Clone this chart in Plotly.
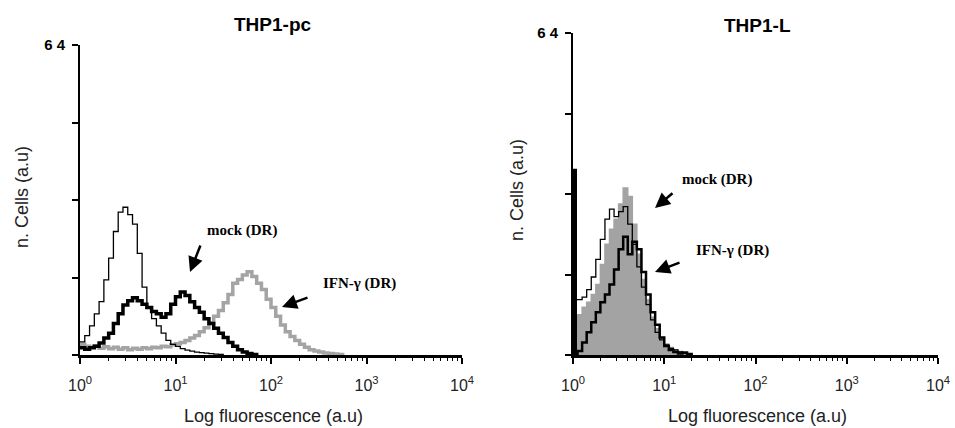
import plotly.graph_objects as go

W, H = 955, 428

# channel positions, log10 of fluorescence, 0.05-decade bins
chan = [round(0.05 * i, 2) for i in range(60)]

# THP1-pc histograms (n. cells, 0-64 scale)
pc_ctrl = [2.7, 4, 6, 8.5, 11, 15.5, 20, 25.5, 29.5, 30.5, 29, 27, 21, 14, 10, 7.5,
           6, 4.5, 3, 2.2, 1.8, 1.3, 1, 0.8, 0.6, 0.5, 0.4, 0.3, 0.2, 0.1, 0]
pc_mock = [1.5, 1.2, 1.5, 1.8, 2.5, 3.5, 4.5, 6.5, 8.5, 10.3, 11.2, 11.8, 11.2, 10.5,
           9.8, 9, 8.5, 7.8, 8.5, 10.5, 12, 13, 12.3, 11, 9.8, 8.8, 7.5, 6.5, 5.5, 4.5,
           3.6, 2.6, 1.8, 1.1, 0.6, 0.3, 0.1, 0]
pc_ifn = [2.2, 1.8, 1.6, 1.9, 1.4, 1.7, 1.3, 1.6, 1.2, 1.5, 1.1, 1.4, 1.2, 1.5, 1.3,
          1.6, 1.5, 1.8, 1.7, 2.1, 2.3, 2.6, 3, 3.5, 4, 4.8, 5.6, 6.6, 8, 9.2, 10.8,
          12.5, 14.8, 15.6, 16.5, 17.2, 16.2, 14.8, 13.5, 11.5, 9.8, 8, 6.2, 4.8, 3.8,
          3, 2.2, 1.6, 1.1, 0.8, 0.6, 0.4, 0.3, 0.2, 0.1, 0]

# THP1-L histograms (control has a pile-up in the first channel)
l_ctrl_first = 37
l_ctrl = [11, 11, 11.5, 13, 15.5, 19, 23, 27, 29, 27.5, 28.5, 29.5, 26, 22, 17.5,
          13.5, 10, 7, 4.5, 3, 2, 1.3, 1, 0.6, 0.4, 0.2, 0]
l_ifn = [6.6, 8, 9.5, 10.5, 12, 14, 18, 22, 25, 27, 30, 33.2, 31.5, 26, 20, 15, 11,
         7.5, 5.2, 3.5, 2.2, 1.5, 1, 0.7, 0.4, 0.2, 0]
l_mock = [0, 0.8, 2.5, 4.5, 6.5, 8.5, 10.5, 12, 14, 17, 21, 23.5, 20, 22.5, 21, 16.5,
          12, 8.5, 6, 3.5, 1.8, 1, 0.6, 0.3, 0.5, 0.2, 0]

decades = [0, 1, 2, 3, 4]
y_ticks = [0, 16, 32, 48, 64]
y_ticktext = ["", "", "", "", "6 4"]


def xs(vals):
    return [10 ** c for c in chan[:len(vals)]]


def px(x, y):
    return x / W, 1 - y / H


fig = go.Figure()

# left panel
fig.add_trace(go.Scatter(x=xs(pc_ifn), y=pc_ifn, mode="lines", line_shape="hv",
                         line=dict(color="#a4a4a4", width=3.5), xaxis="x", yaxis="y"))
fig.add_trace(go.Scatter(x=xs(pc_ctrl), y=pc_ctrl, mode="lines", line_shape="hv",
                         line=dict(color="black", width=1.3), xaxis="x", yaxis="y"))
fig.add_trace(go.Scatter(x=xs(pc_mock), y=pc_mock, mode="lines", line_shape="hv",
                         line=dict(color="black", width=3.5), xaxis="x", yaxis="y"))

# right panel
fig.add_trace(go.Scatter(x=xs(l_ifn), y=l_ifn, mode="lines", line_shape="hv",
                         fill="tozeroy", fillcolor="#a3a3a3",
                         line=dict(color="#a3a3a3", width=1.5), xaxis="x2", yaxis="y2"))
fig.add_trace(go.Scatter(x=xs(l_ctrl), y=l_ctrl, mode="lines", line_shape="hv",
                         line=dict(color="black", width=1.3), xaxis="x2", yaxis="y2"))
fig.add_trace(go.Scatter(x=[1, 1], y=[0, l_ctrl_first], mode="lines",
                         line=dict(color="black", width=8), xaxis="x2", yaxis="y2"))
fig.add_trace(go.Scatter(x=xs(l_mock), y=l_mock, mode="lines", line_shape="hv",
                         line=dict(color="black", width=2.5), xaxis="x2", yaxis="y2"))

minor_vals = [m * 10 ** d for d in decades[:-1] for m in range(2, 10)]

xaxis_style = dict(
    type="log", range=[0, 4], showgrid=False, zeroline=False, automargin=False,
    showline=True, linecolor="black", linewidth=3,
    ticks="outside", ticklen=6, tickwidth=1.5, tickcolor="black",
    tickvals=[10 ** d for d in decades],
    ticktext=["10<sup>%d</sup>" % d for d in decades],
    tickfont=dict(family="Liberation Sans, Arial", size=16, color="#222"),
    ticklabelstandoff=8,
    minor=dict(tickvals=minor_vals, ticks="outside", ticklen=3, tickwidth=1,
               tickcolor="black"),
)
yaxis_style = dict(
    range=[0, 64], showgrid=False, zeroline=False, automargin=False,
    showline=True, linecolor="black", linewidth=2,
    ticks="outside", ticklen=6, tickwidth=1.5, tickcolor="black",
    tickvals=y_ticks, ticktext=y_ticktext,
    tickfont=dict(family="Liberation Sans, Arial", size=15, color="black", weight="bold"),
    ticklabelstandoff=4,
)

fig.update_layout(
    width=W, height=H, margin=dict(l=0, r=0, t=0, b=0, autoexpand=False),
    paper_bgcolor="white", plot_bgcolor="white", showlegend=False,
    xaxis=dict(xaxis_style, domain=[80 / W, 462 / W], anchor="y"),
    yaxis=dict(yaxis_style, domain=[1 - 355 / H, 1 - 45 / H], anchor="x"),
    xaxis2=dict(xaxis_style, domain=[573 / W, 938 / W], anchor="y2"),
    yaxis2=dict(yaxis_style, domain=[1 - 355 / H, 1 - 33 / H], anchor="x2"),
)

title_font = dict(family="Liberation Sans, Arial", size=19, color="black", weight="bold")
label_font = dict(family="Liberation Sans, Arial", size=18, color="#222")
note_font = dict(family="Liberation Serif, Times New Roman", size=15, color="black",
                 weight="bold")

texts = [
    ("THP1-pc", 273, 24, title_font, 0),
    ("THP1-L", 757, 25, title_font, 0),
    ("n. Cells (a.u)", 22, 197, label_font, -90),
    ("n. Cells (a.u)", 517, 190, label_font, -90),
    ("Log fluorescence (a.u)", 273, 416, label_font, 0),
    ("Log fluorescence (a.u)", 757, 416, label_font, 0),
    ("mock (DR)", 242, 230, note_font, 0),
    ("IFN-γ (DR)", 359, 283, note_font, 0),
    ("mock (DR)", 717, 180, note_font, 0),
    ("IFN-γ (DR)", 732, 250, note_font, 0),
]
for t, x, y, f, ang in texts:
    X, Y = px(x, y)
    fig.add_annotation(text=t, x=X, y=Y, xref="paper", yref="paper", showarrow=False,
                       font=f, textangle=ang, xanchor="center", yanchor="middle")

# arrows: head (x, y), tail (x, y)
arrows = [
    ((190, 272), (201, 244)),
    ((282, 307), (309, 297)),
    ((655, 208), (674, 192)),
    ((655, 272), (681, 262)),
]
for (hx, hy), (tx, ty) in arrows:
    X, Y = px(hx, hy)
    fig.add_annotation(text="", x=X, y=Y, xref="paper", yref="paper", showarrow=True,
                       ax=tx - hx, ay=ty - hy, arrowhead=2, arrowsize=1.2,
                       arrowwidth=2.5, arrowcolor="black")

# the page body has a default 8px margin; drop it so the figure sits at 0,0
fig.write_html("out.html", config={"displayModeBar": False},
               post_script="document.body.style.margin = '0';")
